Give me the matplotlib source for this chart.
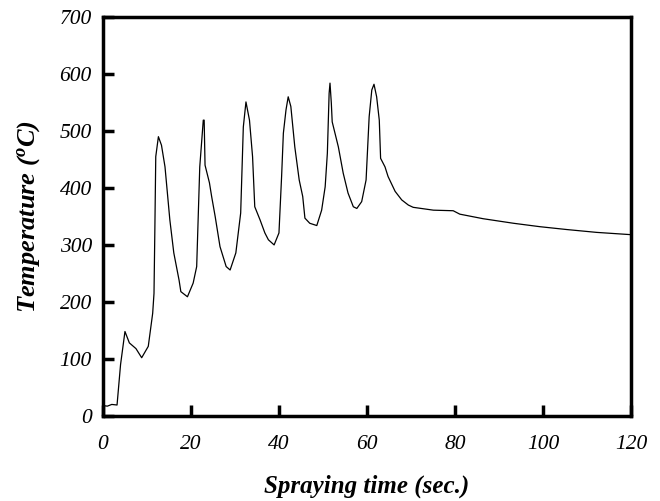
import matplotlib
matplotlib.use('Agg')
import matplotlib.pyplot as plt

# temperature trace
time_s = [0, 1.0, 2.0, 3.2, 4.0, 5.0, 6.0, 7.5, 8.8, 10.3, 11.3, 11.6, 11.8, 12.0,
          12.6, 13.3, 14.1, 15.2, 16.1, 17.3, 17.7, 19.2, 20.5, 21.3, 22.0, 22.8,
          23.0, 23.2, 24.2, 24.7, 25.5, 26.6, 28.0, 28.9, 30.2, 31.3, 31.9, 32.5,
          33.3, 34.0, 34.5, 35.7, 36.8, 37.6, 38.9, 40.0, 40.6, 41.0, 41.6, 42.1,
          42.7, 43.6, 44.6, 45.4, 45.9, 47.0, 48.6, 49.7, 50.5, 51.0, 51.4, 51.6,
          51.9, 52.1, 53.5, 54.6, 55.7, 56.9, 57.7, 58.8, 59.8, 60.5, 61.1, 61.6,
          62.2, 62.8, 63.1, 64.1, 64.8, 66.4, 67.9, 69.4, 70.5, 75.1, 79.6, 81.1,
          86.4, 93.3, 99.3, 105.4, 112.2, 120.0]
temp_c = [18, 17, 20, 19, 90, 148, 128, 118, 102, 122, 180, 215, 330, 455,
          490, 475, 437, 344, 286, 238, 218, 209, 233, 262, 437, 519,
          519, 440, 409, 385, 350, 297, 262, 256, 286, 356, 507, 551,
          519, 455, 367, 344, 321, 309, 300, 321, 420, 496, 537, 560,
          543, 472, 414, 385, 347, 338, 334, 361, 402, 461, 566, 584,
          549, 516, 472, 426, 391, 367, 364, 376, 414, 525, 572, 582,
          560, 519, 452, 437, 420, 394, 379, 370, 366, 361, 360, 354,
          346, 338, 332, 327, 322, 318]

x_ticks = [0, 20, 40, 60, 80, 100, 120]
y_ticks = [0, 100, 200, 300, 400, 500, 600, 700]

plt.rcParams['font.family'] = ['Liberation Serif', 'DejaVu Serif']
plt.rcParams['mathtext.fontset'] = 'custom'
plt.rcParams['mathtext.it'] = 'Liberation Serif:italic:bold'
plt.rcParams['mathtext.rm'] = 'Liberation Serif:bold'

fig = plt.figure(figsize=(6.6, 5.01), dpi=100)
ax = fig.add_axes([0.156, 0.170, 0.800, 0.796])

ax.plot(time_s, temp_c, color='black', linewidth=0.9)

ax.set_xlim(0, 120)
ax.set_ylim(0, 700)
ax.set_xticks(x_ticks)
ax.set_yticks(y_ticks)
ax.tick_params(direction='in', length=8, width=2.5, top=False, right=False,
               labelsize=15.5)
ax.tick_params(axis='x', pad=14)
ax.tick_params(axis='y', pad=8)
for lbl in ax.get_xticklabels() + ax.get_yticklabels():
    lbl.set_fontstyle('italic')
for sp in ax.spines.values():
    sp.set_linewidth(2.5)

ax.set_xlabel('Spraying time (sec.)', fontsize=18, fontweight='bold',
              fontstyle='italic')
ax.set_ylabel('Temperature ($^o$C)', fontsize=19, fontweight='bold',
              fontstyle='italic')
ax.xaxis.set_label_coords(0.5, -0.148)
ax.yaxis.set_label_coords(-0.115, 0.5)

fig.savefig('out.png', dpi=100)
